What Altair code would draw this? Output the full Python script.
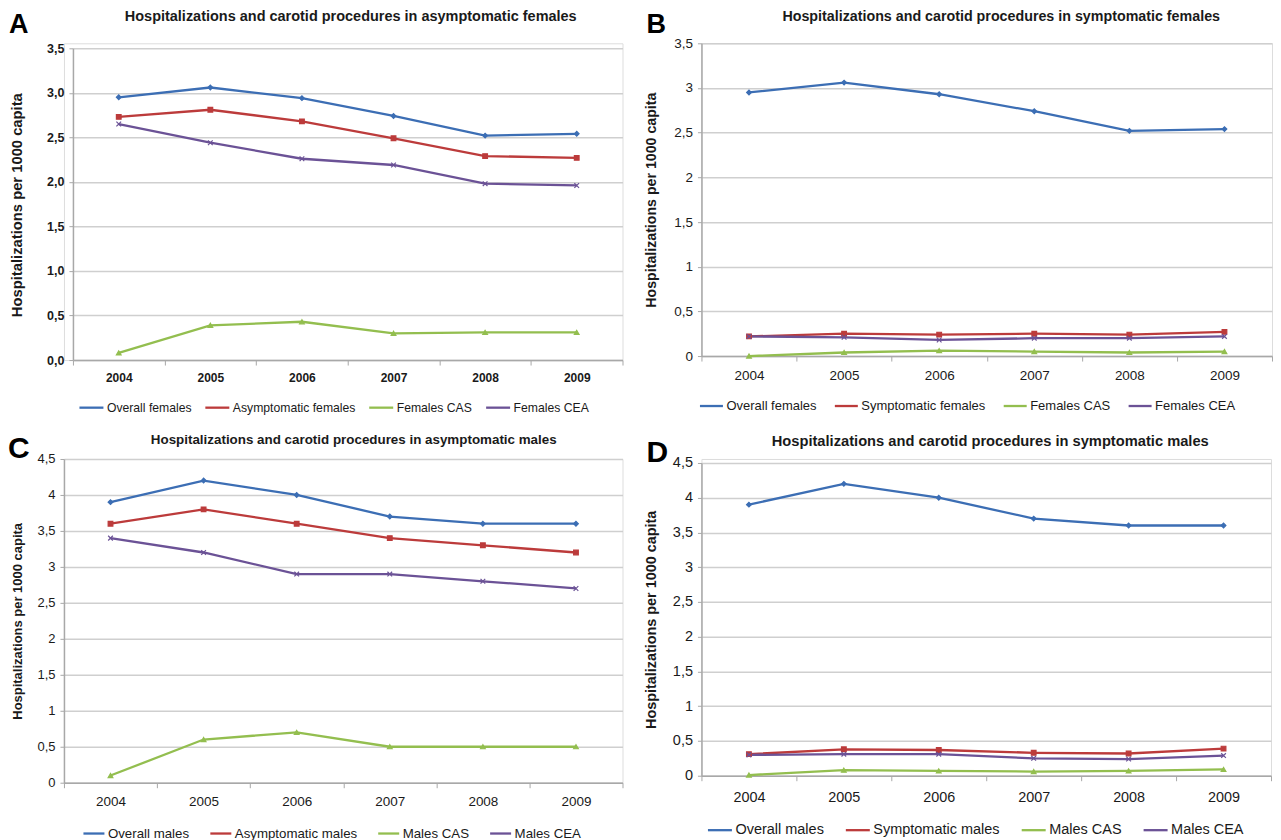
import altair as alt
import pandas as pd

FONT = "Liberation Sans"

years = ["2004", "2005", "2006", "2007", "2008", "2009"]

# Panel A: asymptomatic females
a_names = ["Overall females", "Asymptomatic females", "Females CAS", "Females CEA"]
a_overall = [2.95, 3.06, 2.94, 2.74, 2.52, 2.54]
a_asym = [2.73, 2.81, 2.68, 2.49, 2.29, 2.27]
a_cas = [0.08, 0.39, 0.43, 0.30, 0.31, 0.31]
a_cea = [2.65, 2.44, 2.26, 2.19, 1.98, 1.96]

# Panel B: symptomatic females
b_names = ["Overall females", "Symptomatic females", "Females CAS", "Females CEA"]
b_overall = [2.95, 3.06, 2.93, 2.74, 2.52, 2.54]
b_sym = [0.22, 0.25, 0.24, 0.25, 0.24, 0.27]
b_cas = [0.00, 0.04, 0.06, 0.05, 0.04, 0.05]
b_cea = [0.22, 0.21, 0.18, 0.20, 0.20, 0.22]

# Panel C: asymptomatic males
c_names = ["Overall males", "Asymptomatic males", "Males CAS", "Males CEA"]
c_overall = [3.9, 4.2, 4.0, 3.7, 3.6, 3.6]
c_asym = [3.6, 3.8, 3.6, 3.4, 3.3, 3.2]
c_cas = [0.1, 0.6, 0.7, 0.5, 0.5, 0.5]
c_cea = [3.4, 3.2, 2.9, 2.9, 2.8, 2.7]

# Panel D: symptomatic males
d_names = ["Overall males", "Symptomatic males", "Males CAS", "Males CEA"]
d_overall = [3.9, 4.2, 4.0, 3.7, 3.6, 3.6]
d_sym = [0.31, 0.38, 0.37, 0.33, 0.32, 0.39]
d_cas = [0.01, 0.08, 0.07, 0.06, 0.07, 0.09]
d_cea = [0.30, 0.31, 0.31, 0.25, 0.24, 0.29]

a_ticks = [0, 0.5, 1.0, 1.5, 2.0, 2.5, 3.0, 3.5]
c_ticks = [0, 0.5, 1.0, 1.5, 2.0, 2.5, 3.0, 3.5, 4.0, 4.5]

y_title = "Hospitalizations per 1000 capita"

COLORS = ["#3C6EB4", "#BC3B3B", "#93BE4F", "#6B5296"]
SHAPES = ["diamond", "square", "triangle-up", "M-1,-1L1,1M-1,1L1,-1"]
GRID = "#cfcfcf"
AXIS = "#a8a8a8"
TEXT = "#1a1a1a"

# layout per panel (pixels relative to each panel's origin)
panels = [
    dict(letter="A", title="Hospitalizations and carotid procedures in asymptomatic females",
         names=a_names, values=[a_overall, a_asym, a_cas, a_cea], ticks=a_ticks, ymax=3.5,
         fmt=".1f", w=559, h=317, xr=[9, 559], yr=[317, 5], yoff=-9,
         lx=-55, ly=-10, lfs=27, tx=287, ty=-22, tfs=14.5,
         xafs=12, yafs=12.5, xpad=7, ytfs=14.8, ytx=-55, yty=161.5,
         lgx=14, lgy=351, lgfs=12.2, sym=24, colpad=8, bold=True),
    dict(letter="B", title="Hospitalizations and carotid procedures in symptomatic females",
         names=b_names, values=[b_overall, b_sym, b_cas, b_cea], ticks=a_ticks, ymax=3.5,
         fmt="~g", w=571, h=313, xr=[0, 571], yr=[313, 0], yoff=0,
         lx=-55, ly=-10, lfs=27, tx=300, ty=-22, tfs=14.3,
         xafs=13.5, yafs=13.5, xpad=7, ytfs=14.2, ytx=-50, yty=156.5,
         lgx=-3, lgy=350, lgfs=13, sym=23, colpad=12, bold=False),
    dict(letter="C", title="Hospitalizations and carotid procedures in asymptomatic males",
         names=c_names, values=[c_overall, c_asym, c_cas, c_cea], ticks=c_ticks, ymax=4.5,
         fmt="~g", w=559, h=324, xr=[0, 559], yr=[324, 0], yoff=0,
         lx=-56, ly=-1, lfs=30, tx=290, ty=-15, tfs=13.4,
         xafs=13.5, yafs=13, xpad=7, ytfs=13, ytx=-46, yty=162,
         lgx=18, lgy=362.5, lgfs=13.3, sym=21, colpad=15, bold=False),
    dict(letter="D", title="Hospitalizations and carotid procedures in symptomatic males",
         names=d_names, values=[d_overall, d_sym, d_cas, d_cea], ticks=c_ticks, ymax=4.5,
         fmt="~g", w=570, h=317, xr=[0, 570], yr=[317, 4], yoff=0,
         lx=-55, ly=3, lfs=30, tx=289, ty=-13, tfs=14.7,
         xafs=14.4, yafs=14.5, xpad=10, ytfs=14.4, ytx=-50, yty=160.5,
         lgx=5, lgy=358, lgfs=14.5, sym=24, colpad=16, bold=False),
]


def build(p):
    rows = []
    for name, vals in zip(p["names"], p["values"]):
        for yr, v in zip(years, vals):
            rows.append({"Year": yr, "Series": name, "Value": v})
    df = pd.DataFrame(rows)

    weight = "bold" if p["bold"] else "normal"
    xenc = alt.X(
        "Year:O",
        scale=alt.Scale(type="band", domain=years, range=p["xr"],
                        paddingInner=0, paddingOuter=0),
        axis=alt.Axis(title=None, labelAngle=0, tickBand="extent", grid=False,
                      domainColor=AXIS, domainWidth=1.5, tickColor=AXIS, tickSize=5,
                      labelFontSize=p["xafs"], labelColor=TEXT, labelFont=FONT,
                      labelFontWeight=weight, labelPadding=p["xpad"]),
    )
    yenc = alt.Y(
        "Value:Q",
        scale=alt.Scale(domain=[0, p["ymax"]], range=p["yr"], nice=False, zero=True),
        axis=alt.Axis(values=p["ticks"], offset=p["yoff"],
                      labelExpr="replace(format(datum.value, '%s'), '.', ',')" % p["fmt"],
                      title=y_title, titleFont=FONT,
                      titleFontSize=p["ytfs"], titleFontWeight="bold", titleColor=TEXT,
                      titleX=p["ytx"], titleY=p["yty"], titleAngle=-90,
                      titleAlign="center", titleBaseline="middle",
                      grid=True, gridColor=GRID, gridWidth=1.5,
                      domainColor=AXIS, domainWidth=1.5, tickColor=AXIS, tickSize=4,
                      labelFontSize=p["yafs"], labelColor=TEXT, labelFont=FONT,
                      labelFontWeight=weight, labelPadding=5),
    )
    cscale = alt.Scale(domain=p["names"], range=COLORS)

    lines = alt.Chart(df).mark_line(strokeWidth=2.3).encode(
        x=xenc, y=yenc,
        color=alt.Color("Series:N", scale=cscale, sort=p["names"],
                        legend=alt.Legend(title=None, orient="none", legendX=p["lgx"],
                                          legendY=p["lgy"], direction="horizontal",
                                          columns=4, symbolType="stroke",
                                          symbolSize=p["sym"] ** 2, symbolStrokeWidth=2.3,
                                          labelFontSize=p["lgfs"], labelFont=FONT,
                                          labelColor=TEXT, labelOffset=2,
                                          columnPadding=p["colpad"], padding=0,
                                          labelLimit=300)),
    )
    points = alt.Chart(df).mark_point(filled=True, size=22, strokeWidth=1.2, opacity=1).encode(
        x=xenc, y=yenc,
        fill=alt.Fill("Series:N", scale=cscale, legend=None),
        stroke=alt.Stroke("Series:N", scale=cscale, legend=None),
        shape=alt.Shape("Series:N", scale=alt.Scale(domain=p["names"], range=SHAPES),
                        legend=None),
    )
    labels = pd.DataFrame({"t": [p["letter"]]})
    letter = alt.Chart(labels).mark_text(
        fontSize=p["lfs"], fontWeight="bold", font=FONT, align="left", baseline="alphabetic",
        color="black",
    ).encode(text="t:N", x=alt.value(p["lx"]), y=alt.value(p["ly"]))
    titles = pd.DataFrame({"t": [p["title"]]})
    title = alt.Chart(titles).mark_text(
        fontSize=p["tfs"], fontWeight="bold", font=FONT, align="center",
        baseline="alphabetic", color=TEXT,
    ).encode(text="t:N", x=alt.value(p["tx"]), y=alt.value(p["ty"]))

    return alt.layer(lines, points, letter, title).properties(
        width=p["w"], height=p["h"],
    ).resolve_scale(color="independent", fill="independent", stroke="independent",
                    shape="independent")


charts = [build(p) for p in panels]
res = dict(color="independent", fill="independent", stroke="independent",
           shape="independent", x="independent", y="independent")
chart = alt.concat(*charts, columns=2,
                   spacing={"row": 17, "column": 19}).resolve_scale(**res).properties(
    padding={"left": -1, "top": 0, "right": 0, "bottom": 0}
).configure_view(stroke=None).configure(font=FONT, background="white")

chart.save("out.html", embed_options={"renderer": "svg", "actions": False})
